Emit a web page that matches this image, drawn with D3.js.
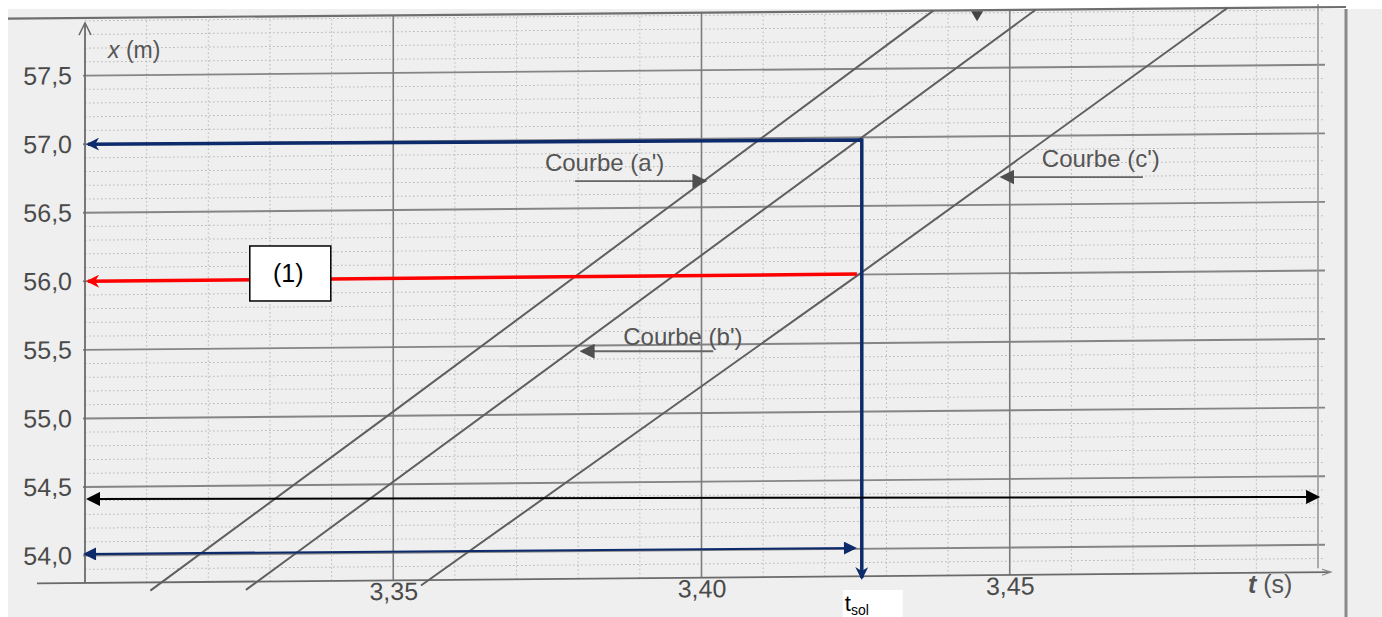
<!DOCTYPE html>
<html lang="fr">
<head>
<meta charset="UTF-8">
<title>x(t) - courbes a', b', c'</title>
<script src="https://cdn.jsdelivr.net/npm/d3@7"></script>
<style>
    body { margin: 0; background: #fff; }
    svg { display: block; }
    text { font-family: 'Liberation Sans', Arial, sans-serif; }
</style>
</head>
<body>
<script>
var width = 1382, height = 617;

// tick labels
var xTicks = [3.35, 3.40, 3.45];
var yTicks = [54.0, 54.5, 55.0, 55.5, 56.0, 56.5, 57.0, 57.5];

// curves, [t (s), x (m)]
var curveA = [[3.3106, 53.74], [3.35, 55.03], [3.4376, 57.92]];
var curveB = [[3.3261, 53.74], [3.3341, 54.0], [3.4542, 57.92]];
var curveC = [[3.3545, 53.76], [3.4252, 55.99], [3.4853, 57.92]];

// curve labels: text anchor [t, x], pointer [t from, t tip, x]
var curveNames = ["Courbe (a')", "Courbe (b')", "Courbe (c')"];
var namePos = [[3.3746, 56.804], [3.3873, 55.535], [3.4552, 56.833]];
var namePointer = [[3.3795, 3.4006, 56.731], [3.4019, 3.3806, 55.49], [3.4716, 3.4487, 56.76]];

// hand drawn annotations, [t, x]
var navyCorner = [[3.3005, 57.0], [3.426, 57.03], [3.426, 53.836]];
var redArrow = [[3.3005, 56.0], [3.4252, 56.053]];
var blackArrow = [[3.3005, 54.413], [3.50, 54.428]];
var navyBottom = [[3.3, 54.011], [3.4249, 54.055]];
var boxOne = [3.3333, 56.057];
var topMark = 3.4447;

var svg = d3.select('body').append('svg')
    .attr('width', width)
    .attr('height', height);

var x = d3.scaleLinear().domain([3.30, 3.50]).range([85, 1318]);
var y = d3.scaleLinear().domain([53.8, 57.92]).range([583, 18]);

// scanned paper
svg.append('rect')
    .attr('x', 8).attr('y', 9)
    .attr('width', width - 8).attr('height', height - 9)
    .attr('fill', '#efefef');

// the scan is slightly tilted
var plot = svg.append('g')
    .attr('transform', 'translate(85,0) skewY(-0.5) translate(-85,0)');

// minor grid
var minorY = d3.range(539, 580).map(d => d / 10).filter(d => yTicks.indexOf(d) < 0);
var minorX = d3.range(331, 350).map(d => d / 100).filter(d => xTicks.indexOf(d) < 0);

plot.append('g').selectAll('line')
    .data(minorY)
    .join('line')
    .attr('x1', x(3.30)).attr('x2', x(3.50) + 6)
    .attr('y1', d => y(d)).attr('y2', d => y(d))
    .attr('stroke', '#b4b4b4')
    .attr('stroke-width', 1)
    .attr('stroke-dasharray', '1.5,2.5');

plot.append('g').selectAll('line')
    .data(minorX)
    .join('line')
    .attr('x1', d => x(d)).attr('x2', d => x(d))
    .attr('y1', y(53.8)).attr('y2', y(57.92))
    .attr('stroke', '#b8b8b8')
    .attr('stroke-width', 1)
    .attr('stroke-dasharray', '1.5,2.5');

// major grid
plot.append('g').selectAll('line')
    .data(yTicks)
    .join('line')
    .attr('x1', x(3.30) - 2).attr('x2', x(3.50) + 7)
    .attr('y1', d => y(d)).attr('y2', d => y(d))
    .attr('stroke', '#858585')
    .attr('stroke-width', 1.9);

plot.append('g').selectAll('line')
    .data(xTicks)
    .join('line')
    .attr('x1', d => x(d)).attr('x2', d => x(d))
    .attr('y1', y(53.8)).attr('y2', y(57.92))
    .attr('stroke', '#7c7c7c')
    .attr('stroke-width', 1.6);

// right edge of the grid
plot.append('line')
    .attr('x1', x(3.50)).attr('x2', x(3.50))
    .attr('y1', y(53.8) - 4).attr('y2', y(57.92) - 3)
    .attr('stroke', '#999')
    .attr('stroke-width', 1.6);

// top border of the frame
plot.append('line')
    .attr('x1', 8).attr('x2', 1346)
    .attr('y1', y(57.92)).attr('y2', y(57.92))
    .attr('stroke', '#6e6e6e')
    .attr('stroke-width', 2.2);

// axes
plot.append('line')
    .attr('x1', x(3.30)).attr('x2', x(3.30))
    .attr('y1', y(53.8)).attr('y2', y(57.92) + 5)
    .attr('stroke', '#6a6a6a')
    .attr('stroke-width', 1.8);
plot.append('path')
    .attr('d', `M${x(3.30) - 6},${y(57.92) + 17}L${x(3.30)},${y(57.92) + 5}L${x(3.30) + 6},${y(57.92) + 17}`)
    .attr('fill', 'none')
    .attr('stroke', '#6a6a6a')
    .attr('stroke-width', 1.5);

plot.append('line')
    .attr('x1', 37).attr('x2', x(3.50) + 12)
    .attr('y1', y(53.8)).attr('y2', y(53.8))
    .attr('stroke', '#6a6a6a')
    .attr('stroke-width', 1.8);
plot.append('path')
    .attr('d', `M${x(3.50) + 4},${y(53.8) - 3}L${x(3.50) + 13},${y(53.8)}L${x(3.50) + 4},${y(53.8) + 3}`)
    .attr('fill', 'none')
    .attr('stroke', '#888')
    .attr('stroke-width', 1.2);

// small arrow head left at the top border
plot.append('path')
    .attr('d', `M${x(topMark) - 6},${y(57.92) + 1}L${x(topMark) + 6},${y(57.92) + 1}L${x(topMark)},${y(57.92) + 11}Z`)
    .attr('fill', '#444');

// curves
var line = d3.line().x(d => x(d[0])).y(d => y(d[1]));
plot.append('g').selectAll('path')
    .data([curveA, curveB, curveC])
    .join('path')
    .attr('d', line)
    .attr('fill', 'none')
    .attr('stroke', '#5f5f5f')
    .attr('stroke-width', 2);

// tick labels
var comma = f => (d => d3.format(f)(d).replace('.', ','));

var xAxis = plot.append('g')
    .attr('transform', `translate(0,${y(53.8)})`)
    .call(d3.axisBottom(x).tickValues(xTicks).tickSize(0).tickPadding(2).tickFormat(comma('.2f')));
var yAxis = plot.append('g')
    .attr('transform', `translate(${x(3.30)},0)`)
    .call(d3.axisLeft(y).tickValues(yTicks).tickSize(0).tickPadding(13).tickFormat(comma('.1f')));

[xAxis, yAxis].forEach(function (g) {
    g.select('.domain').remove();
    g.attr('font-family', null).attr('font-size', null);
    g.selectAll('text')
        .attr('fill', '#4a4a4a')
        .style('font-size', '25px')
        .style('font-family', "'Liberation Sans', Arial, sans-serif");
});

// axis titles
var yTitle = svg.append('text')
    .attr('x', x(3.30) + 23).attr('y', 58)
    .attr('fill', '#555')
    .style('font-size', '23px');
yTitle.append('tspan').style('font-style', 'italic').text('x');
yTitle.append('tspan').text(' (m)');

var xTitle = svg.append('text')
    .attr('x', 1248).attr('y', 593)
    .attr('fill', '#555')
    .style('font-size', '25px');
xTitle.append('tspan').style('font-style', 'italic').style('font-weight', 'bold').text('t');
xTitle.append('tspan').text(' (s)');

// markers
var defs = svg.append('defs');
function marker(id, color, w, h, shape) {
    defs.append('marker')
        .attr('id', id)
        .attr('viewBox', '0 0 10 10')
        .attr('refX', 8.5).attr('refY', 5)
        .attr('markerUnits', 'userSpaceOnUse')
        .attr('markerWidth', w).attr('markerHeight', h)
        .attr('orient', 'auto-start-reverse')
        .append('path')
        .attr('d', shape)
        .attr('fill', color);
}
var tri = 'M0,0L10,5L0,10Z';
var stealth = 'M0,0L10,5L0,10L3,5Z';
marker('navyStealth', '#0d2a6b', 17, 13, stealth);
marker('navyTri', '#0d2a6b', 15, 13, tri);
marker('redStealth', '#ff0000', 17, 13, stealth);
marker('blackTri', '#000', 16, 14, tri);
marker('grayTri', '#4f4f4f', 15, 15, tri);

// curve names and their pointers
var notes = svg.append('g');
notes.selectAll('text')
    .data(curveNames)
    .join('text')
    .attr('x', (d, i) => x(namePos[i][0]))
    .attr('y', (d, i) => y(namePos[i][1]))
    .attr('fill', '#555')
    .style('font-size', '24px')
    .text(d => d);
notes.selectAll('line')
    .data(namePointer)
    .join('line')
    .attr('x1', d => x(d[0])).attr('x2', d => x(d[1]))
    .attr('y1', d => y(d[2])).attr('y2', d => y(d[2]))
    .attr('stroke', '#666')
    .attr('stroke-width', 1.8)
    .attr('marker-end', 'url(#grayTri)');

// hand drawn arrows
var flat = d3.line().x(d => x(d[0])).y(d => y(d[1]));
var arrows = svg.append('g').attr('fill', 'none');

arrows.append('path')
    .attr('d', flat(navyCorner))
    .attr('stroke', '#0d2a6b')
    .attr('stroke-width', 3.5)
    .attr('marker-start', 'url(#navyStealth)')
    .attr('marker-end', 'url(#navyStealth)');

arrows.append('path')
    .attr('d', flat(redArrow))
    .attr('stroke', '#ff0000')
    .attr('stroke-width', 3.5)
    .attr('marker-start', 'url(#redStealth)');

arrows.append('path')
    .attr('d', flat(blackArrow))
    .attr('stroke', '#000')
    .attr('stroke-width', 2)
    .attr('marker-start', 'url(#blackTri)')
    .attr('marker-end', 'url(#blackTri)');

arrows.append('path')
    .attr('d', flat(navyBottom))
    .attr('stroke', '#0d2a6b')
    .attr('stroke-width', 2.2)
    .attr('marker-start', 'url(#navyTri)')
    .attr('marker-end', 'url(#navyTri)');

// box (1)
var bx = x(boxOne[0]), by = y(boxOne[1]);
svg.append('rect')
    .attr('x', bx - 40.5).attr('y', by - 27.5)
    .attr('width', 81).attr('height', 55)
    .attr('fill', '#fff')
    .attr('stroke', '#000')
    .attr('stroke-width', 1.5);
svg.append('text')
    .attr('x', bx - 2).attr('y', by + 9)
    .attr('text-anchor', 'middle')
    .attr('fill', '#000')
    .style('font-size', '25px')
    .text('(1)');

// t_sol label under the vertical arrow
var tx = x(navyCorner[1][0]);
svg.append('rect')
    .attr('x', tx - 19).attr('y', 590)
    .attr('width', 60).attr('height', 30)
    .attr('fill', '#fff');
var tsol = svg.append('text')
    .attr('x', tx - 17).attr('y', 611)
    .attr('fill', '#000')
    .style('font-size', '22px');
tsol.append('tspan').text('t');
tsol.append('tspan').attr('dy', 4).style('font-size', '14px').text('sol');

// frame edge at the right of the scan
svg.append('line')
    .attr('x1', 1346).attr('x2', 1346)
    .attr('y1', 9).attr('y2', height)
    .attr('stroke', '#8a8a8a')
    .attr('stroke-width', 3);
</script>
</body>
</html>
